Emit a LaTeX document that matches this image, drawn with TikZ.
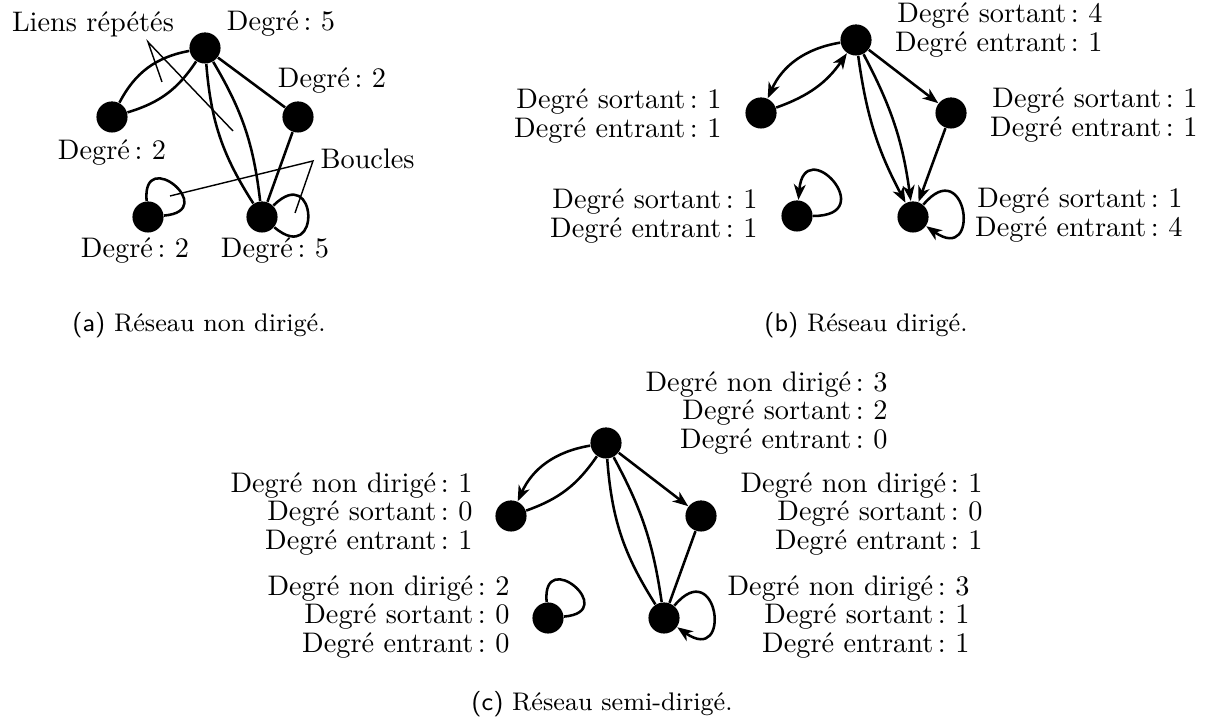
\documentclass[tikz,border=0pt]{standalone}
\usetikzlibrary{arrows.meta}
\frenchspacing
\begin{document}
\begin{tikzpicture}[x=0.3534pt,y=0.3534pt,
  vtx/.style={circle,fill=black,draw=none,inner sep=0pt,minimum size=11pt},
  lbl/.style={inner sep=0pt,font=\fontsize{10pt}{10.2pt}\selectfont,align=right},
  captxt/.style={inner sep=0pt,font=\small},
  edg/.style={line width=0.9pt},
  arr/.style={line width=0.9pt,-{Stealth[length=5.5pt,width=4.2pt,inset=1.6pt]}},
  ann/.style={line width=0.5pt}]
\useasboundingbox (0,0) rectangle (1207,721);

% ---------- (a) ----------
\node[vtx] (A1) at (205,673) {};
\node[vtx] (A2) at (112,604) {};
\node[vtx] (A3) at (298,604) {};
\node[vtx] (A4) at (148,504) {};
\node[vtx] (A5) at (262,504) {};
\draw[edg] (A1) to[bend right=26] (A2);
\draw[edg] (A1) to[bend left=20] (A2);
\draw[edg] (A1) -- (A3);
\draw[edg] (A1) to[bend right=14] (A5);
\draw[edg] (A1) to[bend left=12] (A5);
\draw[edg] (A3) -- (A5);
\draw[edg] (A4) to[out=95,in=5,min distance=20pt] (A4);
\draw[edg] (A5) to[out=45,in=-40,min distance=22pt] (A5);

\node[lbl] (la1) at (281,697) {Degré\,: 5};
\node[lbl] (la2) at (332,640) {Degré\,: 2};
\node[lbl] (la3) at (112,568) {Degré\,: 2};
\node[lbl] (la4) at (135,470) {Degré\,: 2};
\node[lbl] (la5) at (275,470) {Degré\,: 5};
\node[lbl] (lr) at (93,697) {Liens répétés};
\node[lbl,anchor=west] (bc) at (320,562) {Boucles};
\coordinate (LRa) at (148,679);
\coordinate (LR1) at (162,639);
\coordinate (LR2) at (233,590);
\coordinate (BCa) at (313,560);
\coordinate (BC1) at (170,525);
\coordinate (BC2) at (295,508);
\draw[ann] (LR1) -- (LRa) -- (LR2);
\draw[ann] (BC1) -- (BCa) -- (BC2);
\node[captxt] (capa) at (199,396) {{\sffamily (a)} Réseau non dirigé.};

% ---------- (b) ----------
\node[vtx] (B1) at (856,681) {};
\node[vtx] (B2) at (761,608) {};
\node[vtx] (B3) at (797,505) {};
\node[vtx] (B4) at (951,608) {};
\node[vtx] (B5) at (913,504) {};
\draw[arr] (B1) to[bend right=28] (B2);
\draw[arr] (B2) to[bend right=18] (B1);
\draw[arr] (B1) -- (B4);
\draw[arr] (B1) to[bend right=10] (B5);
\draw[arr] (B1) to[bend left=10] (B5);
\draw[arr] (B4) -- (B5);
\draw[arr] (B3) to[out=0,in=85,min distance=24pt] (B3);
\draw[arr] (B5) to[out=50,in=-35,min distance=24pt] (B5);

\node[lbl,anchor=east] (lb1) at (1103,691) {Degré sortant\,: 4\\Degré entrant\,: 1};
\node[lbl,anchor=east] (lb2) at (722,605) {Degré sortant\,: 1\\Degré entrant\,: 1};
\node[lbl,anchor=east] (lb3) at (758,505) {Degré sortant\,: 1\\Degré entrant\,: 1};
\node[lbl,anchor=east] (lb4) at (1198,606) {Degré sortant\,: 1\\Degré entrant\,: 1};
\node[lbl,anchor=east] (lb5) at (1183,506) {Degré sortant\,: 1\\Degré entrant\,: 4};
\node[captxt] (capb) at (866,396) {{\sffamily (b)} Réseau dirigé.};

% ---------- (c) ----------
\node[vtx] (C1) at (606,278) {};
\node[vtx] (C2) at (511,205) {};
\node[vtx] (C3) at (548,103) {};
\node[vtx] (C4) at (701,205) {};
\node[vtx] (C5) at (664,103) {};
\draw[arr] (C1) to[bend right=28] (C2);
\draw[edg] (C2) to[bend right=18] (C1);
\draw[arr] (C1) -- (C4);
\draw[edg] (C1) to[bend right=14] (C5);
\draw[edg] (C1) to[bend left=10] (C5);
\draw[edg] (C4) -- (C5);
\draw[edg] (C3) to[out=95,in=5,min distance=20pt] (C3);
\draw[arr] (C5) to[out=50,in=-35,min distance=24pt] (C5);

\node[lbl,anchor=east] (lc1) at (888,308) {Degré non dirigé\,: 3\\Degré sortant\,: 2\\Degré entrant\,: 0};
\node[lbl,anchor=east] (lc2) at (473,207) {Degré non dirigé\,: 1\\Degré sortant\,: 0\\Degré entrant\,: 1};
\node[lbl,anchor=east] (lc3) at (510,104) {Degré non dirigé\,: 2\\Degré sortant\,: 0\\Degré entrant\,: 0};
\node[lbl,anchor=east] (lc4) at (983,207) {Degré non dirigé\,: 1\\Degré sortant\,: 0\\Degré entrant\,: 1};
\node[lbl,anchor=east] (lc5) at (970,104) {Degré non dirigé\,: 3\\Degré sortant\,: 1\\Degré entrant\,: 1};
\node[captxt] (capc) at (602,17) {{\sffamily (c)} Réseau semi-dirigé.};
\end{tikzpicture}
\end{document}
